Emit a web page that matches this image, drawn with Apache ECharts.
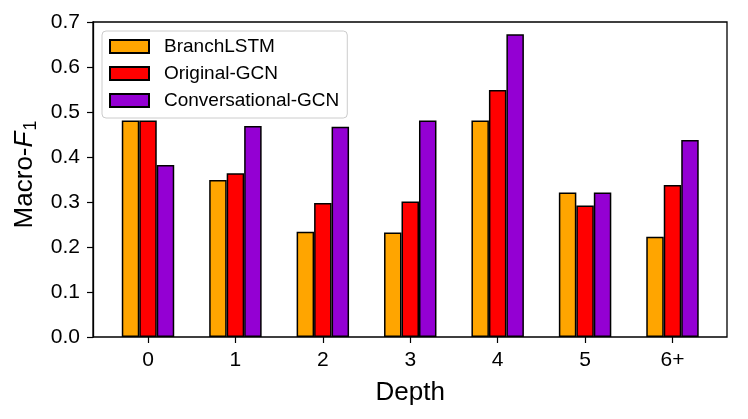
<!DOCTYPE html>
<html>
<head>
    <meta charset="utf-8">
    <title>Macro-F1 by depth</title>
    <script src="https://cdn.jsdelivr.net/npm/echarts@6/dist/echarts.min.js"></script>
    <style>
        html, body { margin: 0; padding: 0; background: #fff; }
        #chart { width: 748px; height: 419px; }
    </style>
</head>
<body>
<div id="chart"></div>
<script>
    var depths = ['0', '1', '2', '3', '4', '5', '6+'];
    var branchLSTM = [0.481, 0.349, 0.234, 0.232, 0.481, 0.321, 0.223];
    var originalGCN = [0.481, 0.364, 0.298, 0.301, 0.549, 0.292, 0.338];
    var conversationalGCN = [0.382, 0.469, 0.467, 0.481, 0.673, 0.321, 0.438];
    var yTicks = [0, 0.1, 0.2, 0.3, 0.4, 0.5, 0.6, 0.7];

    var font = 'Liberation Sans, Arial, sans-serif';
    var myChart = echarts.init(document.getElementById('chart'));

    function barSeries(name, color, values) {
        return {
            name: name,
            type: 'bar',
            xAxisIndex: 1,
            yAxisIndex: 1,
            data: values,
            barWidth: '20%',
            barGap: '0%',
            itemStyle: { color: color, borderColor: '#000', borderWidth: 1.5 }
        };
    }

    var option = {
        animation: false,
        backgroundColor: '#fff',
        legend: {
            orient: 'vertical',
            left: 102,
            top: 31,
            padding: [6, 8, 8, 7],
            itemGap: 8,
            itemWidth: 39,
            itemHeight: 13,
            icon: 'rect',
            borderColor: '#ccc',
            borderWidth: 1,
            borderRadius: 4,
            backgroundColor: 'rgba(255,255,255,0.8)',
            textStyle: { fontFamily: font, fontSize: 19, color: '#000', lineHeight: 19, padding: [0, 0, 0, 10] },
            data: ['BranchLSTM', 'Original-GCN', 'Conversational-GCN']
        },
        grid: [
            // frame + y axis
            { left: 93, right: 21, top: 22, bottom: 82, show: true, borderColor: '#000', borderWidth: 1.3, backgroundColor: 'transparent' },
            // bars, category band = 0.2 bar * 3 with matplotlib margins
            { left: 104.3, right: 31.8, top: 22, bottom: 82 }
        ],
        xAxis: [
            { gridIndex: 0, type: 'value', min: 0, max: 1, show: false },
            {
                gridIndex: 1,
                type: 'category',
                data: depths,
                axisLine: { show: false },
                axisTick: { show: true, alignWithLabel: true, length: 6, lineStyle: { color: '#000', width: 1.2 } },
                axisLabel: { fontFamily: font, fontSize: 21, color: '#000', margin: 13 },
                name: 'Depth',
                nameLocation: 'middle',
                nameGap: 43,
                nameTextStyle: { fontFamily: font, fontSize: 26, color: '#000' }
            }
        ],
        yAxis: [
            {
                gridIndex: 0,
                type: 'value',
                min: 0,
                max: 0.7,
                interval: 0.1,
                axisLine: { show: true, lineStyle: { color: '#000', width: 1.3 } },
                axisTick: { show: true, length: 6, lineStyle: { color: '#000', width: 1.2 } },
                splitLine: { show: false },
                axisLabel: {
                    fontFamily: font, fontSize: 21, color: '#000', margin: 13,
                    formatter: function (v) { return v.toFixed(1); }
                },
                name: '{n|Macro-}{f|F}{s|1}',
                nameLocation: 'middle',
                nameGap: 50,
                nameTextStyle: {
                    fontFamily: font, color: '#000',
                    padding: [0, 0, 0, 10],
                    rich: {
                        n: { fontFamily: font, fontSize: 26, color: '#000', lineHeight: 30 },
                        f: { fontFamily: font, fontSize: 26, color: '#000', fontStyle: 'italic', lineHeight: 30 },
                        s: { fontFamily: font, fontSize: 18, color: '#000', lineHeight: 30, verticalAlign: 'bottom', padding: [0, 0, 0, 1] }
                    }
                }
            },
            { gridIndex: 1, type: 'value', min: 0, max: 0.7, interval: 0.1, show: false, splitLine: { show: false } }
        ],
        series: [
            barSeries('BranchLSTM', '#FFA500', branchLSTM),
            barSeries('Original-GCN', '#FF0000', originalGCN),
            barSeries('Conversational-GCN', '#9400D3', conversationalGCN)
        ]
    };
    myChart.setOption(option);
</script>
</body>
</html>
